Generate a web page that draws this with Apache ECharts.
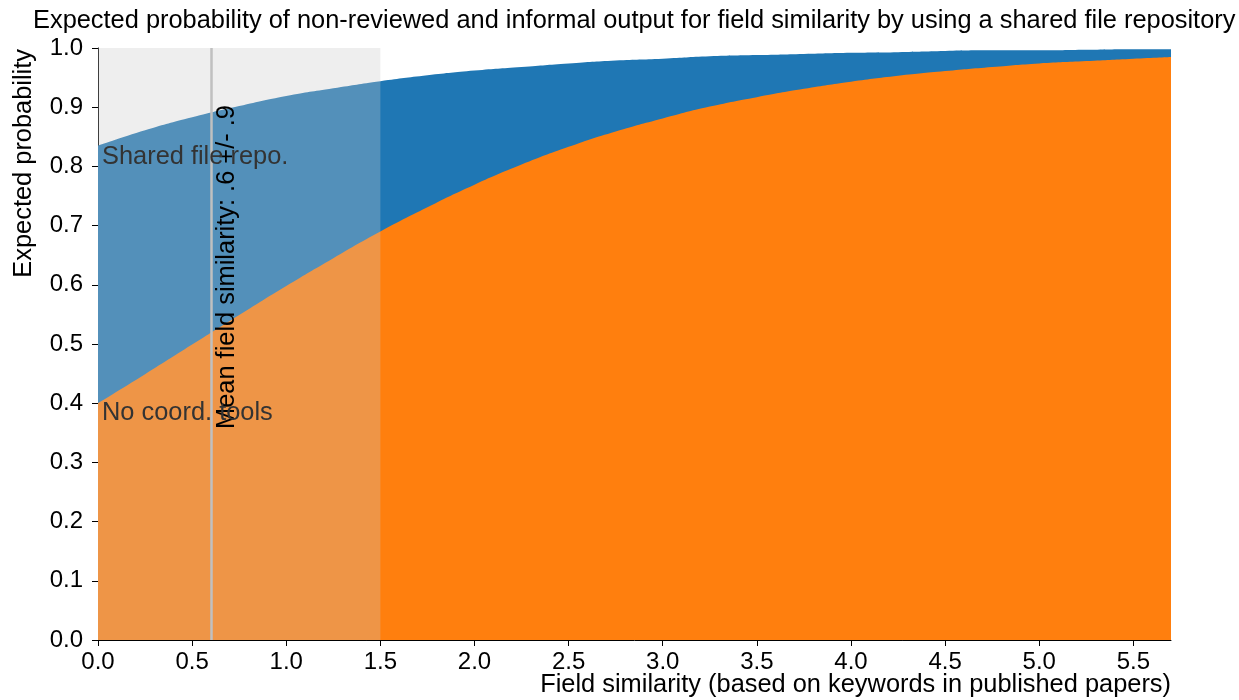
<!DOCTYPE html>
<html>
<head>
<meta charset="utf-8">
<script src="https://cdn.jsdelivr.net/npm/echarts@6/dist/echarts.min.js"></script>
<style>
  html, body { margin: 0; padding: 0; background: #fff; }
  #chart { width: 1239px; height: 700px; }
</style>
</head>
<body>
<div id="chart"></div>
<script>
// field similarity (x) and expected probabilities
const similarity = [0, 0.25, 0.5, 0.75, 1.0, 1.25, 1.5, 1.75, 2.0, 2.25, 2.5, 2.75, 3.0,
  3.25, 3.5, 3.75, 4.0, 4.25, 4.5, 4.75, 5.0, 5.25, 5.5, 5.7]
const sharedRepo = [0.835, 0.861, 0.883, 0.902, 0.919, 0.932, 0.944, 0.954, 0.962, 0.968,
  0.974, 0.979, 0.982, 0.986, 0.988, 0.990, 0.992, 0.993, 0.995, 0.996, 0.996, 0.997, 0.998, 0.998]
const noCoordTools = [0.400, 0.449, 0.499, 0.549, 0.598, 0.645, 0.690, 0.731, 0.769, 0.803,
  0.833, 0.859, 0.881, 0.901, 0.917, 0.931, 0.943, 0.953, 0.961, 0.968, 0.974, 0.978, 0.982, 0.985]

const meanSimilarity = 0.6
const shadedRange = [0, 1.5]
const xMax = 5.7

const titleText = 'Expected probability of non-reviewed and informal output for field similarity by using a shared file repository'
const xName = 'Field similarity (based on keywords in published papers)'
const yName = 'Expected probability'
const meanLabel = 'Mean field similarity: .6 +/- .9'
const seriesNames = ['Shared file repo.', 'No coord. tools']

const FONT = '"Liberation Sans", Arial, Helvetica, sans-serif'

const chart = echarts.init(document.getElementById('chart'))

const pairs = (ys) => similarity.map((x, i) => [x, ys[i]])

chart.setOption({
  animation: false,
  backgroundColor: '#fff',
  grid: { left: 98, right: 68, top: 48, bottom: 60 },
  xAxis: {
    type: 'value',
    min: 0,
    max: xMax,
    interval: 0.5,
    splitLine: { show: false },
    axisLine: { lineStyle: { color: '#000', width: 1 } },
    axisTick: { length: 6, lineStyle: { color: '#000' } },
    axisLabel: {
      color: '#000', fontSize: 24, fontFamily: FONT, margin: 10,
      showMaxLabel: false,
      formatter: v => v.toFixed(1)
    }
  },
  yAxis: {
    type: 'value',
    min: 0,
    max: 1,
    interval: 0.1,
    splitLine: { show: false },
    axisLine: { show: true, lineStyle: { color: '#000', width: 1 } },
    axisTick: { show: true, length: 6, lineStyle: { color: '#000' } },
    axisLabel: {
      color: '#000', fontSize: 24, fontFamily: FONT, margin: 15,
      formatter: v => v.toFixed(1)
    }
  },
  series: [
    {
      name: seriesNames[0],
      type: 'line',
      smooth: true,
      showSymbol: false,
      z: 2,
      lineStyle: { width: 0 },
      areaStyle: { color: '#1f77b4', opacity: 1 },
      data: pairs(sharedRepo)
    },
    {
      name: seriesNames[1],
      type: 'line',
      smooth: true,
      showSymbol: false,
      z: 2,
      lineStyle: { width: 0 },
      areaStyle: { color: '#ff7f0e', opacity: 1 },
      data: pairs(noCoordTools)
    },
    {
      // translucent band over the low-similarity range, drawn above the areas
      type: 'custom',
      z: 5,
      silent: true,
      data: [shadedRange],
      renderItem: (params, api) => {
        const a = api.coord([api.value(0), 1])
        const b = api.coord([api.value(1), 0])
        return {
          type: 'rect',
          shape: { x: a[0], y: a[1], width: b[0] - a[0], height: b[1] - a[1] },
          style: { fill: 'rgba(200,200,200,0.31)' }
        }
      }
    },
    {
      type: 'line',
      z: 6,
      data: [],
      markLine: {
        silent: true,
        symbol: 'none',
        label: { show: false },
        lineStyle: { color: '#bdbdbd', width: 2.5, type: 'solid' },
        data: [{ xAxis: meanSimilarity }]
      }
    }
  ]
})

const px = (x, y) => chart.convertToPixel({ gridIndex: 0 }, [x, y])
const meanPt = px(meanSimilarity, 0.63)
const sharedPt = px(0, sharedRepo[0])
const noCoordPt = px(0, noCoordTools[0])
const yTop = px(0, 1)
const xEnd = px(xMax, 0)

const txt = (x, y, text, align, vAlign, extra) => Object.assign({
  type: 'text',
  x: x,
  y: y,
  z: 10,
  silent: true,
  style: {
    text: text,
    font: '25.4px ' + FONT,
    fill: '#000',
    align: align, textAlign: align,
    verticalAlign: vAlign, textVerticalAlign: vAlign
  }
}, extra || {})

chart.setOption({
  graphic: [
    txt(33, 21, titleText, 'left', 'middle'),
    txt(24, yTop[1] + 1, yName, 'right', 'middle', { rotation: Math.PI / 2 }),
    txt(xEnd[0], 685, xName, 'right', 'middle'),
    txt(meanPt[0] + 16, meanPt[1], meanLabel, 'center', 'middle', { rotation: Math.PI / 2 }),
    (function () { const t = txt(sharedPt[0] + 4, sharedPt[1] + 11, seriesNames[0], 'left', 'middle'); t.style.fill = '#333'; return t })(),
    (function () { const t = txt(noCoordPt[0] + 4, noCoordPt[1] + 10, seriesNames[1], 'left', 'middle'); t.style.fill = '#333'; return t })()
  ]
})
</script>
</body>
</html>
